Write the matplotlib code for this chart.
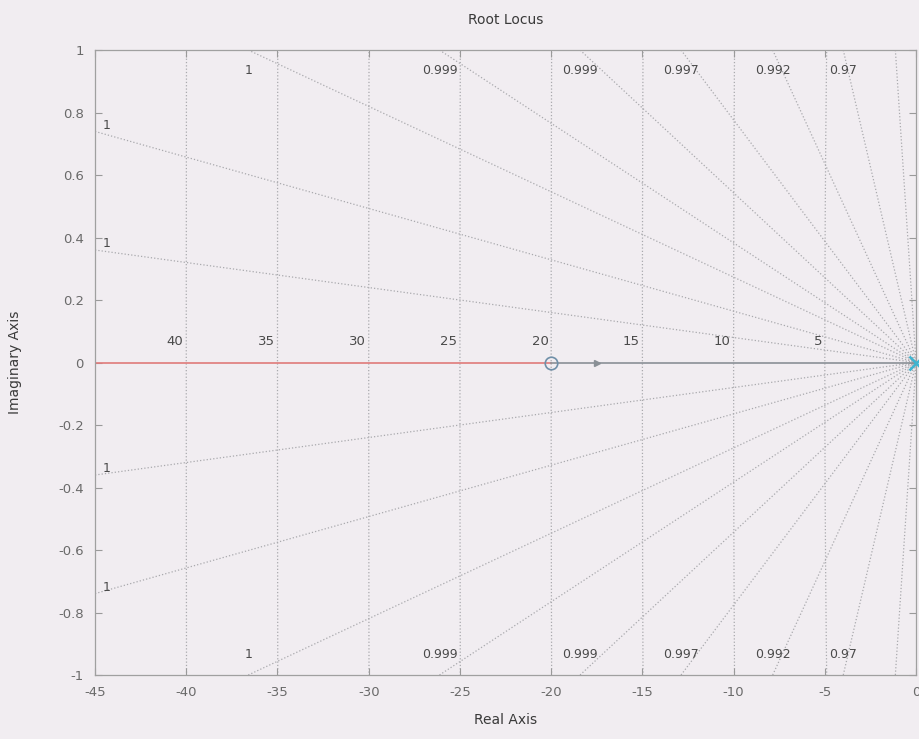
import numpy as np
import matplotlib.pyplot as plt

# root locus data
zero_re = [-20]
pole_re = [0]
branch_left = [-45, -20]     # red part on the real axis
branch_right = [-20, 0]      # grey part on the real axis
arrow_re = -17.5

# sgrid: natural frequencies and damping ratios
wn_values = [5, 10, 15, 20, 25, 30, 35, 40]
zeta_values = [0.999968, 0.999865, 0.999627, 0.999268, 0.998529, 0.997, 0.992, 0.97]
zeta_labels = ['1', '1', '1', '0.999', '0.999', '0.997', '0.992', '0.97']
zeta_extra = [0.75]          # unlabeled line close to the imaginary axis

xlim = (-45, 0)
ylim = (-1, 1)
xticks = [-45, -40, -35, -30, -25, -20, -15, -10, -5, 0]
yticks = [-1, -0.8, -0.6, -0.4, -0.2, 0, 0.2, 0.4, 0.6, 0.8, 1]

bg = '#f1edf1'
grid_c = '#a9a9ad'
txt_c = '#4a4a4a'

fig = plt.figure(figsize=(9.2, 7.39), dpi=100, facecolor=bg)
ax = fig.add_axes([0.1033, 0.0866, 0.8924, 0.8457], facecolor=bg)

# natural frequency circles (look vertical with this aspect)
th = np.linspace(np.pi / 2, 3 * np.pi / 2, 400)
for wn in wn_values:
    ax.plot(wn * np.cos(th), wn * np.sin(th), ls=':', lw=0.9, color=grid_c, zorder=1)
    ax.text(-wn - 0.15, 0.045, str(wn), ha='right', va='bottom', fontsize=9.5,
            color=txt_c, zorder=3)

# damping ratio lines
def damping_line(z):
    t = np.sqrt(1 / z ** 2 - 1)
    # exit point on the frame
    x_exit = max(xlim[0], -ylim[1] / t)
    return t, x_exit

for z, lab in zip(zeta_values, zeta_labels):
    t, xe = damping_line(z)
    for s in (1, -1):
        ax.plot([xe, 0], [s * t * -xe, 0], ls=':', lw=0.9, color=grid_c, zorder=1)
        if xe > xlim[0]:
            ax.text(xe, s * 0.935, lab, ha='center', va='center', fontsize=9,
                    color=txt_c, zorder=3)
        else:
            ax.text(xe + 0.65, s * t * -xe + 0.02, lab, ha='center', va='center',
                    fontsize=9, color=txt_c, zorder=3)

for z in zeta_extra:
    t, xe = damping_line(z)
    for s in (1, -1):
        ax.plot([xe, 0], [s * t * -xe, 0], ls=':', lw=0.9, color=grid_c, zorder=1)

# locus branches
ax.plot(branch_left, [0, 0], color='#e07a7a', lw=1.2, zorder=2)
ax.plot(branch_right, [0, 0], color='#8a9096', lw=1.2, zorder=2)
ax.plot([arrow_re], [0], marker='>', ms=5, color='#8a9096', zorder=2)
ax.plot(zero_re, [0] * len(zero_re), 'o', ms=9, mfc='none', mec='#6f8fa8', mew=1.2,
        zorder=4)
ax.plot(pole_re, [0] * len(pole_re), 'x', ms=10, mec='#3fb4d0', mew=1.8, zorder=4,
        clip_on=False)

ax.set_xlim(xlim)
ax.set_ylim(ylim)
ax.set_xticks(xticks)
ax.set_yticks(yticks)
ax.set_xticklabels([f'{v:g}' for v in xticks])
ax.set_yticklabels([f'{v:g}' for v in yticks])
ax.tick_params(direction='in', length=5, width=0.8, color='#9a9a9a',
               labelsize=9.5, labelcolor='#6a6a6a', top=True, right=True, pad=8)
for sp in ax.spines.values():
    sp.set_color('#a0a0a0')
    sp.set_linewidth(0.9)

ax.set_title('Root Locus', fontsize=10, color='#3a3a3a', pad=19)
ax.set_xlabel('Real Axis', fontsize=10, color='#3a3a3a', labelpad=10)
ax.set_ylabel('Imaginary Axis', fontsize=10, color='#3a3a3a', labelpad=26)

fig.savefig('out.png', dpi=100, facecolor=bg)
